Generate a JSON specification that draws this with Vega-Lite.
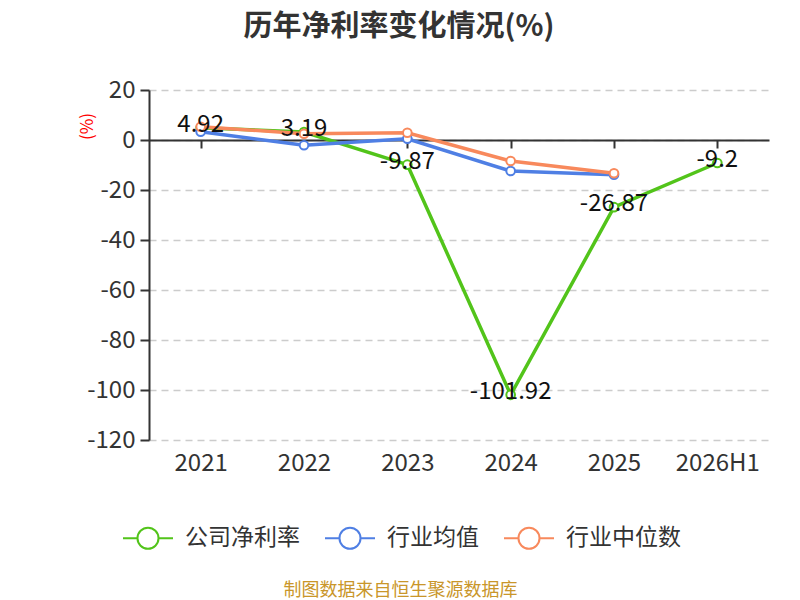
{
  "$schema": "https://vega.github.io/schema/vega-lite/v6.json",
  "width": 620,
  "height": 350,
  "autosize": "none",
  "padding": {"left": 149, "top": 90, "right": 31, "bottom": 160},
  "background": "white",
  "config": {
    "font": "Noto Sans CJK SC",
    "view": {"stroke": null}
  },
  "title": {
    "text": "历年净利率变化情况(%)",
    "font": "Noto Sans CJK SC",
    "fontSize": 29,
    "fontWeight": "bold",
    "color": "#333333",
    "anchor": "middle",
    "dx": -60,
    "offset": 36
  },
  "data": {
    "values": [
      {"year": "2021", "series": "公司净利率", "value": 4.92},
      {"year": "2022", "series": "公司净利率", "value": 3.19},
      {"year": "2023", "series": "公司净利率", "value": -9.87},
      {"year": "2024", "series": "公司净利率", "value": -101.92},
      {"year": "2025", "series": "公司净利率", "value": -26.87},
      {"year": "2026H1", "series": "公司净利率", "value": -9.2},
      {"year": "2021", "series": "行业均值", "value": 3.3},
      {"year": "2022", "series": "行业均值", "value": -2.1},
      {"year": "2023", "series": "行业均值", "value": 0.5},
      {"year": "2024", "series": "行业均值", "value": -12.4},
      {"year": "2025", "series": "行业均值", "value": -13.9},
      {"year": "2021", "series": "行业中位数", "value": 5.3},
      {"year": "2022", "series": "行业中位数", "value": 2.5},
      {"year": "2023", "series": "行业中位数", "value": 2.9},
      {"year": "2024", "series": "行业中位数", "value": -8.4},
      {"year": "2025", "series": "行业中位数", "value": -13.3}
    ]
  },
  "layer": [
    {
      "mark": {
        "type": "line",
        "strokeWidth": 3.5,
        "point": {"filled": false, "fill": "white", "size": 75, "strokeWidth": 2}
      },
      "encoding": {
        "x": {
          "field": "year",
          "type": "ordinal",
          "sort": ["2021", "2022", "2023", "2024", "2025", "2026H1"],
          "axis": {
            "orient": "bottom",
            "offset": -300,
            "labels": false,
            "title": null,
            "grid": false,
            "domainColor": "#333333",
            "domainWidth": 2,
            "tickColor": "#333333",
            "tickWidth": 2,
            "tickSize": 8,
            "bandPosition": 1
          }
        },
        "y": {
          "field": "value",
          "type": "quantitative",
          "scale": {"domain": [-120, 20], "nice": false},
          "axis": {
            "values": [-120, -100, -80, -60, -40, -20, 0, 20],
            "labelExpr": "toString(datum.value)",
            "title": "(%)",
            "titleColor": "#ff0000",
            "titleFontSize": 17,
            "titleFontWeight": "normal",
            "titleAngle": -90,
            "titleX": -62,
            "titleY": 36,
            "titleAlign": "center",
            "titleBaseline": "middle",
            "labelFontSize": 24,
            "labelColor": "#333333",
            "labelPadding": 5,
            "domainColor": "#333333",
            "domainWidth": 2,
            "tickColor": "#333333",
            "tickWidth": 2,
            "tickSize": 9,
            "gridColor": "#cccccc",
            "gridDash": [7, 5],
            "gridWidth": 1.5
          }
        },
        "color": {
          "field": "series",
          "type": "nominal",
          "sort": ["公司净利率", "行业均值", "行业中位数"],
          "scale": {
            "domain": ["公司净利率", "行业均值", "行业中位数"],
            "range": ["#52c41a", "#4f7fe4", "#f8895c"]
          },
          "legend": {
            "title": null,
            "orient": "none",
            "direction": "horizontal",
            "legendX": -27,
            "legendY": 422,
            "symbolType": "M-1,0L-0.42,0M0.42,0L1,0M0.42,0A0.42,0.42,0,1,1,-0.42,0A0.42,0.42,0,1,1,0.42,0",
            "symbolSize": 2500,
            "symbolStrokeWidth": 2,
            "symbolFillColor": "white",
            "labelFontSize": 23,
            "labelColor": "#333333",
            "labelOffset": 11,
            "columnPadding": 21,
            "padding": 0
          }
        },
        "detail": {"field": "series"}
      }
    },
    {
      "transform": [{"filter": "datum.series === '公司净利率'"}],
      "mark": {
        "type": "text",
        "fontSize": 24,
        "color": "#111111",
        "baseline": "middle",
        "dy": -3
      },
      "encoding": {
        "x": {
          "field": "year",
          "type": "ordinal",
          "sort": ["2021", "2022", "2023", "2024", "2025", "2026H1"],
          "axis": {
            "orient": "bottom",
            "domain": false,
            "ticks": false,
            "grid": false,
            "labelAngle": 0,
            "labelFontSize": 24,
            "labelColor": "#333333",
            "labelPadding": 11,
            "title": "制图数据来自恒生聚源数据库",
            "titleColor": "#c9962a",
            "titleFontSize": 18,
            "titleFontWeight": "normal",
            "titleX": 251,
            "titleY": 150,
            "titleAlign": "center",
            "titleBaseline": "middle"
          }
        },
        "y": {"field": "value", "type": "quantitative"},
        "text": {"field": "value", "type": "nominal"}
      }
    }
  ],
  "resolve": {"axis": {"x": "independent"}}
}
